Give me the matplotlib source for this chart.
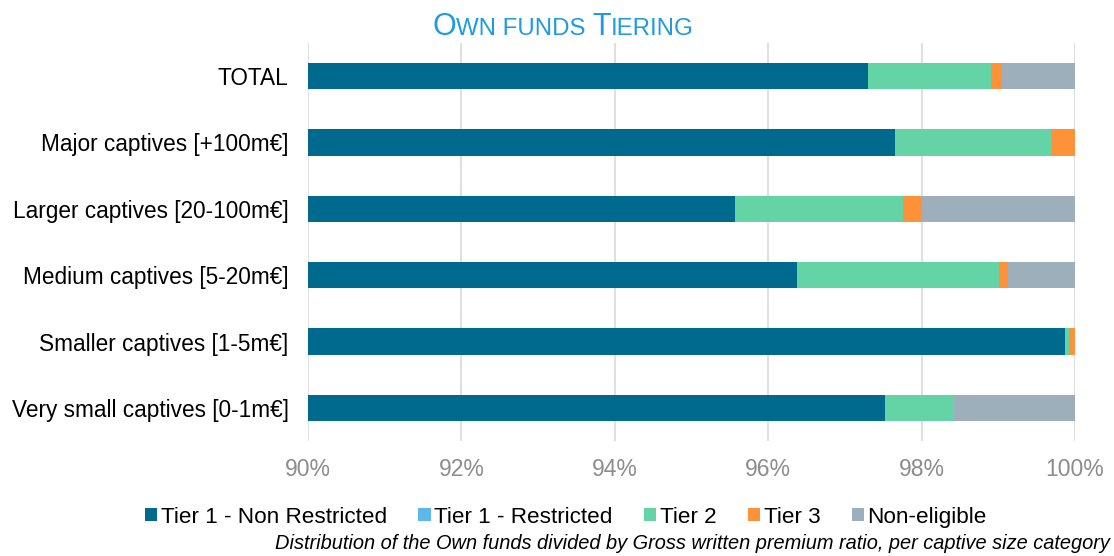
import matplotlib
matplotlib.use("Agg")
import matplotlib.pyplot as plt
from matplotlib.patches import Patch

plt.rcParams['font.family'] = ['Liberation Sans', 'DejaVu Sans']

# ---------------------------
# Data (percent, cumulative stack starts at 0; axis shows 90-100)
# ---------------------------
categories = ["TOTAL", "Major captives [+100m€]", "Larger captives [20-100m€]",
              "Medium captives [5-20m€]", "Smaller captives [1-5m€]",
              "Very small captives [0-1m€]"]
tier1_nr = [97.30, 97.65, 95.57, 96.37, 99.875, 97.52]
tier1_r = [0.0, 0.0, 0.0, 0.0, 0.0, 0.0]
tier2 = [1.61, 2.04, 2.19, 2.64, 0.045, 0.90]
tier3 = [0.14, 0.31, 0.25, 0.12, 0.08, 0.0]
non_eligible = [0.95, 0.0, 1.99, 0.87, 0.0, 1.58]

series_names = ["Tier 1 - Non Restricted", "Tier 1 - Restricted", "Tier 2", "Tier 3", "Non-eligible"]
colors = ["#006A8E", "#5DB7E8", "#64D4A7", "#FF9138", "#9EAFBC"]

xticks = [90, 92, 94, 96, 98, 100]

fig = plt.figure(figsize=(11.14, 5.56), dpi=100)
ax = fig.add_axes([0.2765, 0.2068, 0.6885, 0.7159])

series = [tier1_nr, tier1_r, tier2, tier3, non_eligible]
ypos = list(range(len(categories)))
left = [0.0] * len(categories)
for vals, col, name in zip(series, colors, series_names):
    ax.barh(ypos, vals, left=left, height=0.4, color=col, label=name, zorder=3)
    left = [l + v for l, v in zip(left, vals)]

ax.set_xlim(90, 100)
ax.set_ylim(len(categories) - 0.5, -0.5)
ax.set_xticks(xticks)
ax.set_xticklabels([f"{t}%" for t in xticks])
ax.set_yticks(ypos)
ax.set_yticklabels(categories)
ax.tick_params(axis='x', colors="#8C8C8C", labelsize=16.5, length=0, pad=12)
ax.tick_params(axis='y', colors="#000000", labelsize=16.3, length=0, pad=14)
ax.grid(axis='x', color="#E0E0E0", linewidth=1.5, zorder=0)
for s in ax.spines.values():
    s.set_visible(False)

handles = [Patch(facecolor=c, label=n) for c, n in zip(colors, series_names)]
fig.legend(handles=handles, loc="center", bbox_to_anchor=(0.508, 0.070), ncol=5,
           frameon=False, fontsize=16.2, handlelength=0.55, handleheight=0.55,
           handletextpad=0.15, columnspacing=1.4)

fig.text(0.996, 0.005, "Distribution of the Own funds divided by Gross written premium ratio, per captive size category",
         ha="right", va="bottom", fontsize=14.4, style="italic", color="#000000")

# small-caps title
title_color = "#1F9BDE"
pieces = [("O", 22), ("WN FUNDS ", 17.3), ("T", 22), ("IERING", 17.3)]
renderer = fig.canvas.get_renderer()
texts = []
total_w = 0
for s, fs in pieces:
    t = fig.text(0, 0.937, s, fontsize=fs, color=title_color, ha="left", va="baseline")
    w = t.get_window_extent(renderer=renderer).width
    texts.append((t, w))
    total_w += w
x = 563 - total_w / 2
for t, w in texts:
    t.set_x(x / fig.bbox.width)
    x += w

fig.savefig("out.png", dpi=100)
